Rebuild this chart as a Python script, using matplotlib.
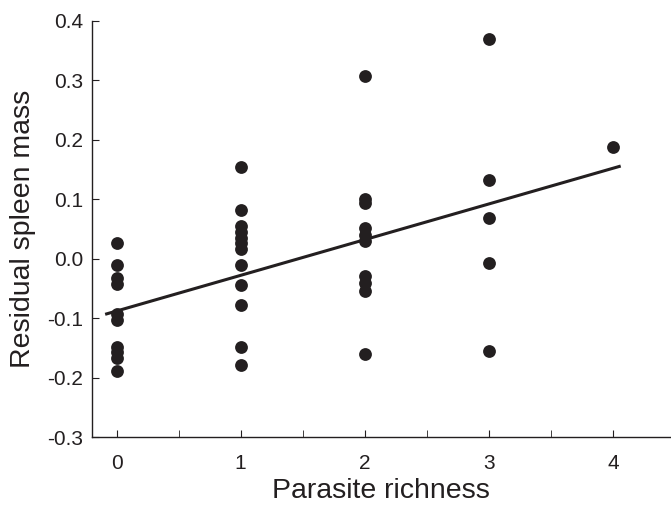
import numpy as np
import matplotlib.pyplot as plt
import matplotlib as mpl
from matplotlib.ticker import MultipleLocator

mpl.rcParams['font.family'] = ['Liberation Sans', 'DejaVu Sans']
mpl.rcParams['axes.unicode_minus'] = False

# parasite richness for each host, and its residual spleen mass
richness_0 = [0.026, -0.011, -0.033, -0.042, -0.093, -0.103, -0.148, -0.156, -0.167, -0.188]
richness_1 = [0.154, 0.082, 0.055, 0.045, 0.034, 0.026, 0.016, -0.011, -0.044, -0.078, -0.148, -0.179]
richness_2 = [0.307, 0.101, 0.094, 0.051, 0.040, 0.030, -0.029, -0.041, -0.054, -0.160]
richness_3 = [0.369, 0.133, 0.069, -0.008, -0.155]
richness_4 = [0.188]

# fitted regression line
fit_x = [-0.08, 4.05]
fit_intercept = -0.088
fit_slope = 0.060

groups = [richness_0, richness_1, richness_2, richness_3, richness_4]
x = np.concatenate([[i] * len(g) for i, g in enumerate(groups)])
y = np.concatenate(groups)

dark = '#231f20'

fig = plt.figure(figsize=(6.71, 5.08), dpi=100)
ax = fig.add_axes([0.1367, 0.1394, 0.862, 0.8199])

ax.scatter(x, y, s=85, color=dark, zorder=3, linewidths=0)
fx = np.array(fit_x)
ax.plot(fx, fit_intercept + fit_slope * fx, color=dark, lw=2.2, zorder=2)

ax.set_xlim(-0.2, 4.46)
ax.set_ylim(-0.3, 0.4)
ax.set_xticks([0, 1, 2, 3, 4])
ax.xaxis.set_minor_locator(MultipleLocator(0.5))
ax.set_yticks(np.round(np.arange(-0.3, 0.41, 0.1), 1))
ax.set_yticklabels(['%.1f' % v for v in np.arange(-0.3, 0.41, 0.1)])

for s in ['top', 'right']:
    ax.spines[s].set_visible(False)
for s in ['left', 'bottom']:
    ax.spines[s].set_color(dark)
    ax.spines[s].set_linewidth(1.0)

ax.tick_params(axis='both', which='both', direction='in', colors=dark,
               labelsize=15, labelcolor=dark)
ax.tick_params(axis='x', which='major', length=5, pad=12)
ax.tick_params(axis='x', which='minor', length=5)
ax.tick_params(axis='y', which='major', length=5, pad=6)

ax.set_xlabel('Parasite richness', fontsize=20.5, color=dark, labelpad=4)
ax.set_ylabel('Residual spleen mass', fontsize=20.5, color=dark, labelpad=8)

fig.savefig('out.png', dpi=100)
